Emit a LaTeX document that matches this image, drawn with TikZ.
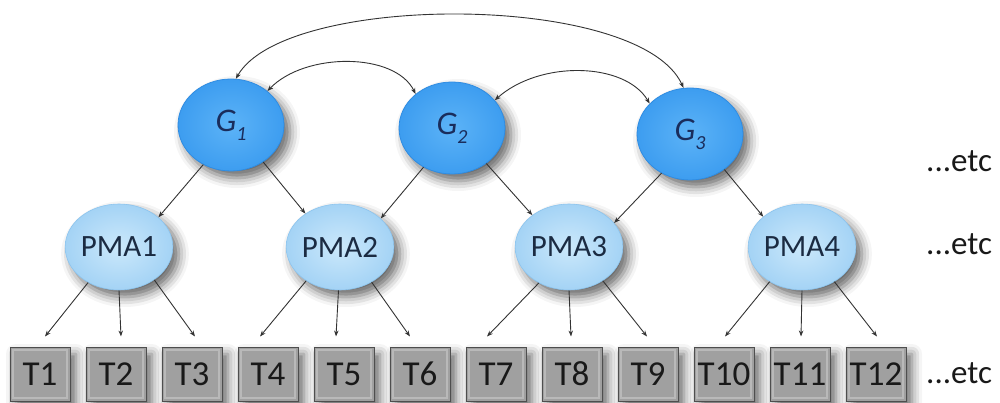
\documentclass[tikz,border=0pt]{standalone}
\usepackage{fontspec}
\setmainfont{Carlito}
\usetikzlibrary{shapes.geometric,shadows.blur,arrows.meta}

\definecolor{gblueedge}{HTML}{3D9DF0}
\definecolor{gbluelight}{HTML}{5CB3F7}
\definecolor{gbluerim}{HTML}{2F8CE2}
\definecolor{pmablue}{HTML}{A4D3F5}
\definecolor{pmalight}{HTML}{CBE8FB}
\definecolor{pmaedge}{HTML}{8CC4EE}
\definecolor{navytext}{HTML}{1A2D5C}
\definecolor{pmatext}{HTML}{1B2B42}
\definecolor{boxfill}{HTML}{A0A0A0}
\definecolor{boxlight}{HTML}{B9B9B9}
\definecolor{boxedge}{HTML}{4E4E4E}
\definecolor{linkgray}{HTML}{333333}

\tikzset{
  soft shadow/.style={blur shadow={shadow xshift=6pt, shadow yshift=-7pt,
      shadow blur radius=10pt, shadow opacity=60}},
  gnode/.style={ellipse, minimum width=106pt, minimum height=92pt, inner sep=0pt,
      inner color=gbluelight, outer color=gblueedge, draw=gbluerim, line width=0.8pt,
      soft shadow, text=navytext, font=\fontsize{33}{35}\selectfont\itshape},
  pmanode/.style={ellipse, minimum width=104pt, minimum height=86pt, inner sep=0pt,
      inner color=pmalight, outer color=pmablue, draw=pmaedge, line width=0.6pt,
      soft shadow, text=pmatext, font=\fontsize{31}{33}\selectfont},
  taskbox/.style={rectangle, minimum width=60pt, minimum height=54pt, inner sep=0pt,
      fill=boxfill, draw=boxedge, line width=1pt, soft shadow,
      text=black!90, font=\fontsize{35}{37}\selectfont,
      path picture={\draw[boxlight, line width=1.2pt]
        ([xshift=3pt,yshift=-3pt]path picture bounding box.north west) rectangle
        ([xshift=-3pt,yshift=3pt]path picture bounding box.south east);}},
  etclabel/.style={font=\fontsize{33}{35}\selectfont, text=black!90, anchor=west, inner sep=0pt},
  link/.style={draw=linkgray, line width=0.9pt, -{Stealth[length=6pt,width=4.5pt]}},
  dlink/.style={draw=linkgray, line width=0.9pt,
      {Stealth[length=6pt,width=4.5pt]}-{Stealth[length=6pt,width=4.5pt]}},
}

\newcommand{\gsub}[1]{G\raisebox{-0.28em}{\fontsize{20}{22}\selectfont #1}}

\begin{document}
\begin{tikzpicture}[x=1pt, y=-1pt]
  \useasboundingbox (0,0) rectangle (1000,403);

  % top level
  \node[gnode] (g1) at (231,125) {\gsub{1}};
  \node[gnode] (g2) at (452,128) {\gsub{2}};
  \node[gnode] (g3) at (690,134) {\gsub{3}};

  % middle level
  \node[pmanode] (p1) at (119,247) {PMA1};
  \node[pmanode] (p2) at (340,247) {PMA2};
  \node[pmanode] (p3) at (569,247) {PMA3};
  \node[pmanode] (p4) at (802,247) {PMA4};

  % bottom level
  \foreach \i in {1,...,12} {
    \node[taskbox] (t\i) at ({40+76*(\i-1)},374) {T\i};
  }

  % etc labels
  \node[etclabel] (e1) at (926,161) {...etc};
  \node[etclabel] (e2) at (926,244) {...etc};
  \node[etclabel] (e3) at (926,373) {...etc};

  % links between the top nodes
  \draw[dlink] (g1.84) .. controls (285,-8) and (640,-8) .. (g3.98);
  \draw[dlink] (g1.43) .. controls (305,52) and (395,52) .. (g2.137);
  \draw[dlink] (g2.33) .. controls (540,60) and (625,62) .. (g3.143);

  % top to middle
  \draw[link] (g1.235) -- (p1.37);
  \draw[link] (g1.311) -- (p2.136);
  \draw[link] (g2.234) -- (p2.35);
  \draw[link] (g2.314) -- (p3.139);
  \draw[link] (g3.234) -- (p3.28);
  \draw[link] (g3.314) -- (p4.142);

  % middle to bottom
  \draw[link] (p1.229) -- ([xshift=5pt,yshift=10pt]t1.north);
  \draw[link] (p1.270) -- ([xshift=5pt,yshift=10pt]t2.north);
  \draw[link] (p1.317) -- ([xshift=3pt,yshift=10pt]t3.north);
  \draw[link] (p2.225) -- ([xshift=-8pt,yshift=10pt]t4.north);
  \draw[link] (p2.268) -- ([xshift=-8pt,yshift=10pt]t5.north);
  \draw[link] (p2.312) -- ([xshift=-10pt,yshift=10pt]t6.north);
  \draw[link] (p3.230) -- ([xshift=-9pt,yshift=10pt]t7.north);
  \draw[link] (p3.270) -- ([xshift=-1pt,yshift=10pt]t8.north);
  \draw[link] (p3.315) -- ([xshift=-1pt,yshift=10pt]t9.north);
  \draw[link] (p4.227) -- ([xshift=1pt,yshift=10pt]t10.north);
  \draw[link] (p4.270) -- ([xshift=1pt,yshift=10pt]t11.north);
  \draw[link] (p4.313) -- ([xshift=1pt,yshift=10pt]t12.north);
\end{tikzpicture}
\end{document}
